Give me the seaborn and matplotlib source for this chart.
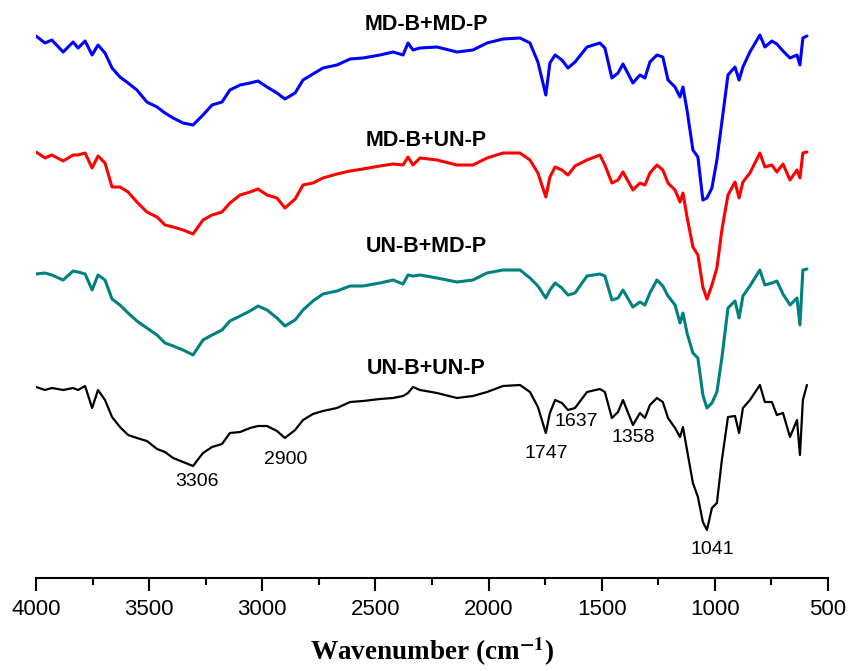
import numpy as np
import pandas as pd
import seaborn as sns
import matplotlib.pyplot as plt

# FTIR spectra (absorbance-like a.u., stacked, larger = lower on the plot)
wavenumber = [4000, 3960, 3930, 3880, 3836, 3814, 3783, 3752, 3726, 3695,
              3664, 3629, 3593, 3554, 3510, 3465, 3430, 3394, 3350, 3306,
              3262, 3222, 3178, 3143, 3098, 3054, 3019, 2979, 2935, 2900,
              2855, 2820, 2776, 2732, 2670, 2612, 2555, 2480, 2422, 2378,
              2356, 2334, 2303, 2228, 2140, 2069, 2007, 1936, 1861, 1817,
              1782, 1747, 1729, 1706, 1676, 1649, 1618, 1565, 1508, 1486,
              1455, 1428, 1406, 1362, 1331, 1309, 1287, 1256, 1230, 1207,
              1176, 1154, 1141, 1123, 1097, 1075, 1053, 1035, 1013, 991,
              969, 942, 911, 893, 876, 845, 801, 779, 748, 726,
              699, 668, 637, 624, 611, 593]

md_b_md_p = [36, 43, 40, 52, 42, 48, 41, 55, 45, 53,
             68, 77, 83, 90, 102, 107, 113, 118, 123, 125,
             115, 105, 102, 90, 85, 83, 81, 87, 93, 99,
             93, 80, 74, 68, 65, 59, 58, 55, 52, 55,
             43, 50, 48, 47, 52, 50, 43, 39, 38, 43,
             62, 95, 63, 55, 60, 68, 62, 47, 43, 48,
             78, 73, 64, 83, 75, 78, 62, 55, 57, 80,
             87, 97, 87, 110, 150, 157, 200, 198, 188, 160,
             122, 75, 67, 80, 67, 52, 35, 47, 41, 44,
             51, 58, 55, 65, 38, 36]

md_b_un_p = [152, 158, 155, 161, 155, 155, 153, 168, 156, 163,
             187, 187, 192, 202, 212, 217, 225, 227, 230, 234,
             220, 215, 212, 203, 195, 192, 189, 195, 198, 208,
             199, 185, 183, 178, 174, 171, 169, 166, 164, 165,
             157, 165, 158, 160, 165, 165, 158, 153, 153, 160,
             173, 197, 177, 167, 170, 175, 166, 160, 155, 165,
             183, 180, 172, 190, 183, 185, 173, 165, 170, 183,
             190, 202, 193, 217, 247, 255, 287, 299, 285, 268,
             230, 195, 182, 198, 182, 173, 153, 167, 165, 172,
             164, 180, 170, 178, 153, 152]

un_b_md_p = [274, 273, 275, 280, 271, 272, 274, 290, 275, 280,
             299, 305, 313, 321, 328, 335, 343, 346, 350, 355,
             340, 335, 330, 321, 316, 311, 306, 310, 318, 326,
             320, 310, 301, 294, 291, 286, 286, 283, 280, 284,
             275, 276, 275, 278, 282, 280, 273, 270, 270, 278,
             286, 298, 290, 283, 288, 295, 293, 276, 274, 276,
             300, 298, 290, 307, 302, 305, 293, 280, 286, 296,
             305, 323, 313, 333, 353, 358, 395, 408, 403, 392,
             358, 308, 301, 318, 296, 286, 270, 285, 283, 281,
             294, 305, 298, 325, 270, 269]

un_b_un_p = [387, 390, 388, 390, 388, 390, 386, 408, 390, 400,
             417, 427, 435, 438, 441, 449, 452, 458, 462, 466,
             453, 447, 444, 433, 432, 428, 426, 426, 431, 438,
             430, 420, 414, 411, 408, 402, 401, 399, 398, 396,
             393, 387, 390, 393, 398, 396, 392, 386, 385, 392,
             407, 433, 413, 400, 403, 410, 408, 392, 389, 392,
             418, 412, 400, 425, 413, 418, 405, 398, 402, 418,
             428, 437, 427, 450, 483, 497, 522, 530, 508, 503,
             460, 417, 416, 433, 408, 400, 385, 402, 402, 415,
             413, 437, 420, 455, 400, 385]

samples = ["MD-B+MD-P", "MD-B+UN-P", "UN-B+MD-P", "UN-B+UN-P"]
colors = ["#0000FF", "#FF0000", "#008080", "#000000"]
widths = [2.2, 2.2, 2.2, 1.6]
label_y = [25, 140, 247, 368]

peak_labels = ["3306", "2900", "1747", "1637", "1358", "1041"]
peak_x = [3288, 2895, 1746, 1614, 1362, 1013]
peak_y = [482, 459, 453, 422, 437, 550]

spectra = [md_b_md_p, md_b_un_p, un_b_md_p, un_b_un_p]
df = pd.concat([pd.DataFrame({"wn": wavenumber, "a": s, "sample": n})
                for s, n in zip(spectra, samples)], ignore_index=True)

sns.set_style("ticks")
plt.rcParams["font.family"] = ["Liberation Sans", "DejaVu Sans"]
plt.rcParams["mathtext.fontset"] = "stix"
plt.rcParams["text.color"] = "black"
plt.rcParams["axes.labelcolor"] = "black"
plt.rcParams["xtick.color"] = "black"
plt.rcParams["axes.edgecolor"] = "black"

fig = plt.figure(figsize=(8.49, 6.71), dpi=100)
ax = fig.add_axes([36 / 849, 93 / 671, 792 / 849, 578 / 671])

for name, c, lw in zip(samples, colors, widths):
    sns.lineplot(data=df[df["sample"] == name], x="wn", y="a", color=c,
                 linewidth=lw, estimator=None, sort=False, ax=ax, legend=False)

for name, y in zip(samples, label_y):
    ax.text(2277, y, name, ha="center", va="center", fontsize=15.5,
            fontweight="bold", color="black")

for t, x, y in zip(peak_labels, peak_x, peak_y):
    ax.text(x, y, t, ha="center", va="center", fontsize=14, color="black")

ax.set_xlim(4000, 500)
ax.set_ylim(578, 0)
ax.set_xticks(np.arange(4000, 499, -500))
ax.set_xticks(np.arange(3750, 500, -500), minor=True)
ax.tick_params(axis="x", which="major", length=9, width=1.5, labelsize=16,
               pad=6, direction="out", colors="black")
ax.tick_params(axis="x", which="minor", length=5, width=1.5, direction="out",
               colors="black")
ax.set_yticks([])
ax.set_ylabel("")
for s in ["left", "right", "top"]:
    ax.spines[s].set_visible(False)
ax.spines["bottom"].set_linewidth(1.5)
ax.spines["bottom"].set_color("black")

ax.set_xlabel(r"Wavenumber (cm$^{\mathbf{-1}}$)", fontsize=19.5,
              fontweight="bold", family="Liberation Serif", va="center",
              color="black")
ax.xaxis.set_label_coords(0.5, -0.128)

fig.savefig("out.png", dpi=100)
